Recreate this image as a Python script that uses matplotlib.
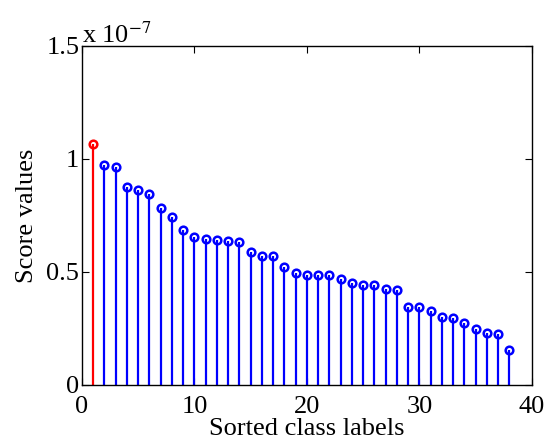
import matplotlib
matplotlib.use("Agg")
import matplotlib.pyplot as plt
from matplotlib.ticker import FuncFormatter

plt.rcParams['font.family'] = ['Liberation Serif', 'DejaVu Serif']
plt.rcParams['mathtext.fontset'] = 'stix'

# sorted scores (units of 1e-7), class 1 is highlighted
labels = list(range(1, 39))
scores = [1.066, 0.973, 0.966, 0.876, 0.861, 0.843, 0.781, 0.743, 0.685, 0.655,
          0.647, 0.640, 0.636, 0.632, 0.586, 0.570, 0.570, 0.523, 0.496, 0.487,
          0.487, 0.484, 0.470, 0.452, 0.442, 0.442, 0.423, 0.421, 0.345, 0.345,
          0.326, 0.301, 0.294, 0.273, 0.247, 0.229, 0.225, 0.154]
scale = 1e-7
values = [s * scale for s in scores]

fig = plt.figure(figsize=(5.48, 4.42), dpi=100)
ax = fig.add_axes([0.1496, 0.1296, 0.8212, 0.7664])


def draw_stem(x, y, color):
    m, st, b = ax.stem(x, y, basefmt=' ')
    plt.setp(st, color=color, linewidth=1.6)
    plt.setp(m, color=color, marker='o', markersize=5.5, markerfacecolor='none',
             markeredgewidth=1.8)


draw_stem(labels[1:], values[1:], 'blue')
draw_stem(labels[:1], values[:1], 'red')

ax.set_xlim(0, 40)
ax.set_ylim(0, 1.5e-7)
ax.set_xticks([0, 10, 20, 30, 40])
ax.set_yticks([0, 0.5e-7, 1e-7, 1.5e-7])
ax.yaxis.set_major_formatter(FuncFormatter(lambda v, p: '%g' % round(v / scale, 2)))
ax.tick_params(direction='in', top=True, right=True, labelsize=19, length=5, pad=2)
ax.tick_params(axis='x', pad=8)
for sp in ax.spines.values():
    sp.set_linewidth(1.0)

ax.set_xlabel('Sorted class labels', fontsize=19, labelpad=0)
ax.set_ylabel('Score values', fontsize=19, labelpad=6)
ax.text(0, 0.993, r'x 10$^{-7}$', transform=ax.transAxes, fontsize=19,
        ha='left', va='bottom')

fig.savefig('out.png', dpi=100)
